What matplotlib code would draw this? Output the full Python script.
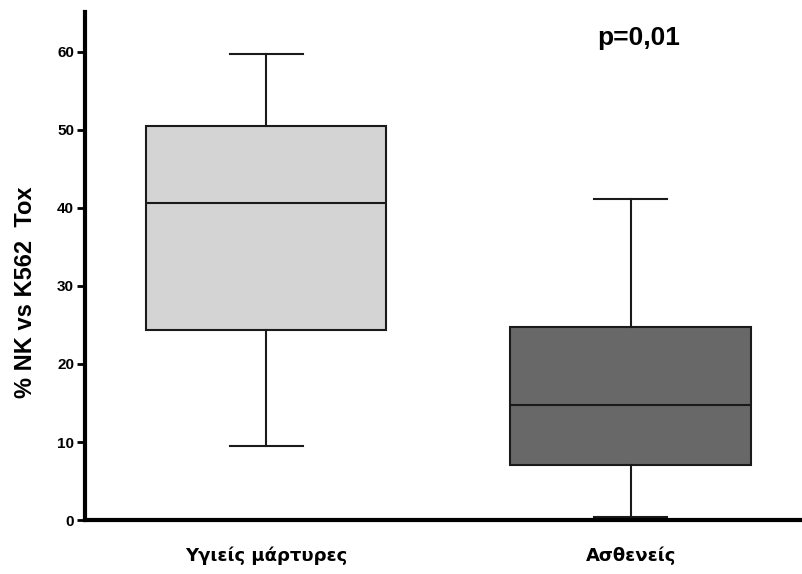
import matplotlib
matplotlib.use('Agg')
import matplotlib.pyplot as plt

plt.rcParams['font.family'] = ['Liberation Sans', 'DejaVu Sans']

# Box plot summary values
groups = ['Υγιείς μάρτυρες', 'Ασθενείς']
whislo = [9.5, 0.4]
q1 = [24.3, 7.0]
med = [40.6, 14.8]
q3 = [50.5, 24.7]
whishi = [59.7, 41.2]
colors = ['#d4d4d4', '#686868']
p_text = 'p=0,01'

stats = []
for i in range(len(groups)):
    stats.append({'label': groups[i], 'whislo': whislo[i], 'q1': q1[i],
                  'med': med[i], 'q3': q3[i], 'whishi': whishi[i], 'fliers': []})

fig = plt.figure(figsize=(8.03, 5.74), dpi=100)
ax = fig.add_axes([0.106, 0.094, 0.89, 0.885])

bp = ax.bxp(stats, positions=[1, 2], widths=0.66, patch_artist=True,
            showfliers=False, showcaps=True,
            boxprops=dict(linewidth=1.5, edgecolor='#1a1a1a'),
            medianprops=dict(color='#1a1a1a', linewidth=1.5),
            whiskerprops=dict(color='#1a1a1a', linewidth=1.5),
            capprops=dict(color='#1a1a1a', linewidth=1.5),
            capwidths=0.2)
for patch, c in zip(bp['boxes'], colors):
    patch.set_facecolor(c)

ax.set_xlim(0.504, 2.463)
ax.set_ylim(0, 65.1)
ax.set_yticks([0, 10, 20, 30, 40, 50, 60])

for s in ['top', 'right']:
    ax.spines[s].set_visible(False)
for s in ['left', 'bottom']:
    ax.spines[s].set_linewidth(3)

ax.tick_params(axis='y', length=6, width=2, pad=2, labelsize=11)
ax.tick_params(axis='x', length=0, pad=19)
for lab in ax.get_yticklabels():
    lab.set_fontweight('bold')
for lab in ax.get_xticklabels():
    lab.set_fontweight('bold')
    lab.set_fontsize(13)
    lab.set_family(['DejaVu Sans'])

ax.set_ylabel('% NK vs K562  Tox', fontsize=17, fontweight='bold')
ax.yaxis.set_label_coords(-0.068, 0.449)
ax.text(2.02, 61.8, p_text, ha='center', va='center', fontsize=19, fontweight='bold')

fig.savefig('out.png', dpi=100)
